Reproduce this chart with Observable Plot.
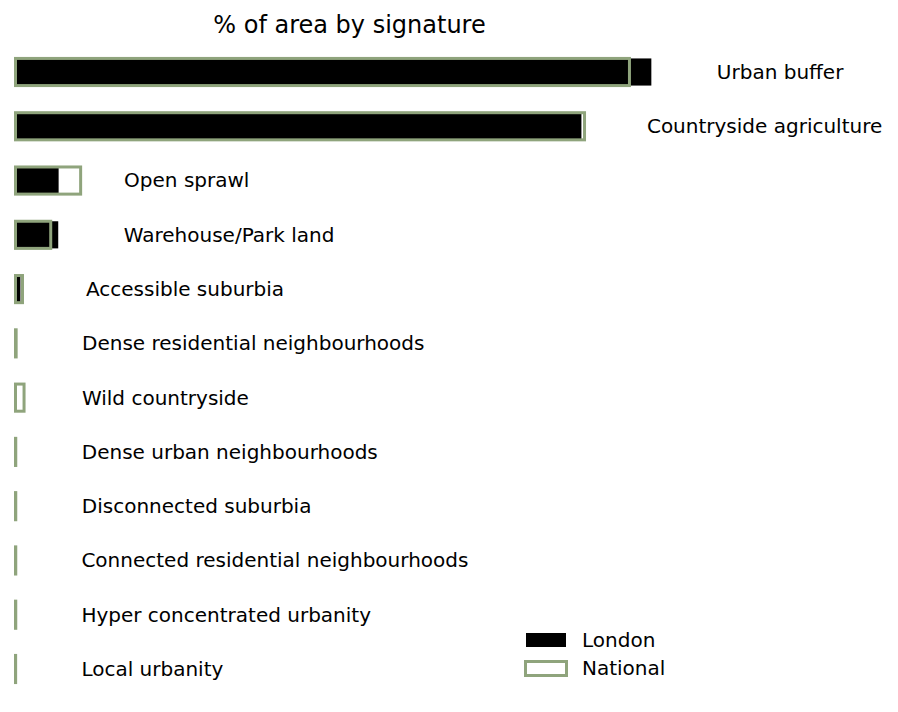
<!DOCTYPE html>
<html>
<head>
<meta charset="utf-8">
<script src="https://cdn.jsdelivr.net/npm/d3@7"></script>
<script src="https://cdn.jsdelivr.net/npm/@observablehq/plot@0.6"></script>
<style>
  html, body { margin: 0; padding: 0; background: #fff; }
  body { width: 898px; height: 712px; position: relative; overflow: hidden; font-family: "DejaVu Sans", sans-serif; }
  #title { position: absolute; left: 0; top: 5px; width: 699px; line-height: 40px; text-align: center; font-size: 24px; color: #000; }
  #chart { position: absolute; left: 0; top: 0; }
  #legend { position: absolute; left: 524px; top: 626px; font-size: 20px; color: #000; }
  .row { display: flex; align-items: center; height: 28px; }
  .sw1 { width: 40px; height: 14px; background: #000; margin-left: 2px; margin-right: 16px; }
  .sw2 { width: 44px; height: 17px; box-sizing: border-box; border: 3px solid #8fa47c; background: #fff; margin-right: 14px; }
</style>
</head>
<body>
<div id="chart"></div>
<div id="title">% of area by signature</div>
<div id="legend">
  <div class="row"><div class="sw1"></div><span>London</span></div>
  <div class="row"><div class="sw2"></div><span>National</span></div>
</div>
<script>
const signatures = [
  "Urban buffer",
  "Countryside agriculture",
  "Open sprawl",
  "Warehouse/Park land",
  "Accessible suburbia",
  "Dense residential neighbourhoods",
  "Wild countryside",
  "Dense urban neighbourhoods",
  "Disconnected suburbia",
  "Connected residential neighbourhoods",
  "Hyper concentrated urbanity",
  "Local urbanity"
];
const londonPct   = [49.1, 43.7, 3.33, 3.3, 0.38, 0.08, 0.07, 0.06, 0.06, 0.03, 0.03, 0.03];
const nationalPct = [47.41, 43.94, 5.03, 2.72, 0.54, 0.05, 0.66, 0.02, 0.02, 0.02, 0.02, 0.01];

const rows = signatures.map((name, i) => ({name, london: londonPct[i], national: nationalPct[i]}));
const green = "#8fa47c";

const chart = Plot.plot({
  width: 898,
  height: 712,
  style: {fontFamily: "DejaVu Sans", background: "transparent", overflow: "visible"},
  x: {domain: [0, 55], range: [15.5, 15.5 + 55 * 12.95], axis: null},
  y: {domain: signatures, range: [31.3, 709.7], padding: 0.5, round: false, axis: null},
  marks: [
    Plot.barX(rows, {y: "name", x: "london", fill: "#000"}),
    Plot.barX(rows, {y: "name", x: "national", fill: "none", stroke: green, strokeWidth: 3}),
    Plot.text(rows, {y: "name", x: "london", text: "name", textAnchor: "start", dx: 65, fontSize: 20, fill: "#000"})
  ]
});
document.getElementById("chart").appendChild(chart);
</script>
</body>
</html>
